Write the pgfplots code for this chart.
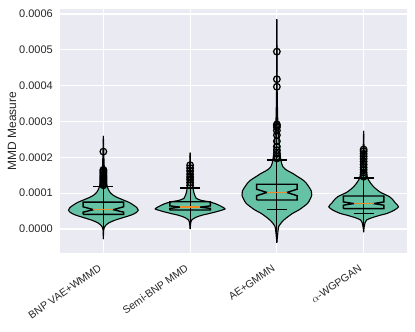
\documentclass[border=0pt]{standalone}
\usepackage{fontspec}
\setmainfont{Liberation Sans}
\usepackage{pgfplots}
\usepackage{pgfplotstable}
\pgfplotsset{compat=1.18}
\usepgfplotslibrary{fillbetween}

\definecolor{bg}{HTML}{EAEAF2}
\definecolor{vfill}{HTML}{66C2A5}
\definecolor{med}{HTML}{F08A24}
\definecolor{txt}{HTML}{262626}

% violin half-widths (category units), y in units of 1e-4
\pgfplotstableread{
y w
2.60 0
1.80 0.009
1.40 0.023
1.18 0.046
1.05 0.069
0.95 0.109
0.88 0.161
0.81 0.230
0.74 0.299
0.67 0.345
0.60 0.385
0.53 0.402
0.46 0.379
0.39 0.322
0.32 0.230
0.25 0.138
0.18 0.069
0.12 0.034
0.06 0.014
-0.05 0.003
-0.28 0
}\vA
\pgfplotstableread{
y w
2.13 0
1.70 0.007
1.40 0.017
1.15 0.034
1.05 0.040
0.95 0.052
0.86 0.069
0.80 0.126
0.76 0.218
0.70 0.299
0.62 0.368
0.56 0.402
0.52 0.356
0.48 0.299
0.43 0.218
0.39 0.144
0.34 0.080
0.30 0.046
0.25 0.017
0.15 0.006
0.00 0
}\vB
\pgfplotstableread{
y w
5.85 0
4.00 0.003
3.00 0.011
2.30 0.029
1.93 0.046
1.74 0.069
1.64 0.115
1.55 0.184
1.46 0.241
1.37 0.299
1.28 0.339
1.18 0.368
1.06 0.397
0.95 0.402
0.84 0.385
0.72 0.356
0.63 0.310
0.53 0.253
0.44 0.184
0.34 0.126
0.25 0.080
0.16 0.046
0.08 0.023
0.02 0.017
-0.15 0.009
-0.38 0
}\vC
\pgfplotstableread{
y w
2.74 0
2.20 0.006
1.80 0.017
1.55 0.034
1.42 0.046
1.30 0.075
1.18 0.115
1.04 0.184
0.97 0.241
0.90 0.299
0.81 0.339
0.72 0.368
0.62 0.402
0.53 0.356
0.44 0.276
0.38 0.184
0.33 0.115
0.28 0.057
0.25 0.034
0.18 0.017
0.05 0.006
-0.09 0
}\vD

\begin{document}
\begin{tikzpicture}
\begin{axis}[
    at={(0,0)}, anchor=south west,
    scale only axis,
    width=347pt, height=243.2pt,
    xmin=0.5, xmax=4.5,
    ymin=-0.661, ymax=6.126,
    axis background/.style={fill=bg},
    axis line style={draw=none},
    major tick length=0pt,
    grid=major,
    grid style={white, line width=1.1pt},
    xtick={1,2,3,4},
    xticklabels={BNP VAE+WMMD, Semi-BNP MMD, AE+GMMN, $\alpha$-WGPGAN},
    xticklabel style={xshift=-5.5pt, yshift=-11pt, rotate=35, anchor=north east, inner sep=0pt,
        font=\fontsize{10.5}{12}\selectfont, text=txt},
    ytick={0,1,2,3,4,5,6},
    yticklabels={0.0000,0.0001,0.0002,0.0003,0.0004,0.0005,0.0006},
    yticklabel style={anchor=east, inner sep=0pt, xshift=-7pt,
        font=\fontsize{11}{13}\selectfont, text=txt},
    ylabel={MMD Measure},
    ylabel style={at={(axis description cs:-0.138,0.5)}, anchor=center, rotate=0,
        font=\fontsize{12}{14}\selectfont, text=txt},
    clip=false,
]
% violins
\addplot[name path=A1, draw=black, line width=1.1pt, smooth] table[x expr=1+\thisrow{w}, y=y] {\vA};
\addplot[name path=A2, draw=black, line width=1.1pt, smooth] table[x expr=1-\thisrow{w}, y=y] {\vA};
\addplot[vfill] fill between[of=A1 and A2];
\addplot[name path=B1, draw=black, line width=1.1pt, smooth] table[x expr=2+\thisrow{w}, y=y] {\vB};
\addplot[name path=B2, draw=black, line width=1.1pt, smooth] table[x expr=2-\thisrow{w}, y=y] {\vB};
\addplot[vfill] fill between[of=B1 and B2];
\addplot[name path=C1, draw=black, line width=1.1pt, smooth] table[x expr=3+\thisrow{w}, y=y] {\vC};
\addplot[name path=C2, draw=black, line width=1.1pt, smooth] table[x expr=3-\thisrow{w}, y=y] {\vC};
\addplot[vfill] fill between[of=C1 and C2];
\addplot[name path=D1, draw=black, line width=1.1pt, smooth] table[x expr=4+\thisrow{w}, y=y] {\vD};
\addplot[name path=D2, draw=black, line width=1.1pt, smooth] table[x expr=4-\thisrow{w}, y=y] {\vD};
\addplot[vfill] fill between[of=D1 and D2];

% extent lines
\addplot[black, line width=1.1pt] coordinates {(1,-0.28) (1,2.60)};
\addplot[black, line width=1.1pt] coordinates {(2,0.00) (2,2.13)};
\addplot[black, line width=1.1pt] coordinates {(3,-0.38) (3,5.85)};
\addplot[black, line width=1.1pt] coordinates {(4,-0.09) (4,2.74)};

% notched boxes
\addplot[black, line width=1.4pt, fill=none] coordinates {
(0.767,0.41) (0.767,0.47) (0.885,0.54) (0.767,0.62) (0.767,0.75)
(1.233,0.75) (1.233,0.62) (1.115,0.54) (1.233,0.47) (1.233,0.41) (0.767,0.41)};
\addplot[black, line width=1.4pt, fill=none] coordinates {
(1.767,0.53) (1.767,0.575) (1.885,0.61) (1.767,0.645) (1.767,0.76)
(2.233,0.76) (2.233,0.645) (2.115,0.61) (2.233,0.575) (2.233,0.53) (1.767,0.53)};
\addplot[black, line width=1.4pt, fill=none] coordinates {
(2.767,0.81) (2.767,0.93) (2.885,1.02) (2.767,1.11) (2.767,1.25)
(3.233,1.25) (3.233,1.11) (3.115,1.02) (3.233,0.93) (3.233,0.81) (2.767,0.81)};
\addplot[black, line width=1.4pt, fill=none] coordinates {
(3.767,0.57) (3.767,0.665) (3.885,0.71) (3.767,0.755) (3.767,0.92)
(4.233,0.92) (4.233,0.755) (4.115,0.71) (4.233,0.665) (4.233,0.57) (3.767,0.57)};

% medians
\addplot[med, line width=1.6pt] coordinates {(0.885,0.54) (1.115,0.54)};
\addplot[med, line width=1.6pt] coordinates {(1.885,0.61) (2.115,0.61)};
\addplot[med, line width=1.6pt] coordinates {(2.885,1.02) (3.115,1.02)};
\addplot[med, line width=1.6pt] coordinates {(3.885,0.71) (4.115,0.71)};

% caps
\addplot[black, line width=1.4pt] coordinates {(0.885,1.18) (1.115,1.18)};
\addplot[black, line width=1.4pt] coordinates {(1.885,1.15) (2.115,1.15)};
\addplot[black, line width=1.4pt] coordinates {(2.885,1.93) (3.115,1.93)};
\addplot[black, line width=1.4pt] coordinates {(2.885,0.55) (3.115,0.55)};
\addplot[black, line width=1.4pt] coordinates {(3.885,1.42) (4.115,1.42)};
\addplot[black, line width=1.4pt] coordinates {(3.885,0.43) (4.115,0.43)};

% outliers
\addplot[only marks, mark=o, mark size=3.3pt, black, line width=1.25pt] coordinates {
(1,1.22)(1,1.25)(1,1.28)(1,1.31)(1,1.34)(1,1.37)(1,1.40)(1,1.43)(1,1.46)(1,1.50)
(1,1.54)(1,1.58)(1,1.62)(1,1.65)(1,2.16)
(2,1.22)(2,1.30)(2,1.38)(2,1.45)(2,1.53)(2,1.62)(2,1.70)(2,1.78)
(3,1.97)(3,2.02)(3,2.10)(3,2.20)(3,2.30)(3,2.45)(3,2.62)(3,2.75)(3,2.84)(3,2.88)
(3,2.92)(3,3.97)(3,4.18)(3,4.95)
(4,1.46)(4,1.52)(4,1.58)(4,1.65)(4,1.72)(4,1.80)(4,1.88)(4,1.96)(4,2.03)(4,2.10)
(4,2.17)(4,2.22)
};
\end{axis}
\path (-60pt,-79.3pt) rectangle (355pt,252.7pt);
\end{tikzpicture}
\end{document}
